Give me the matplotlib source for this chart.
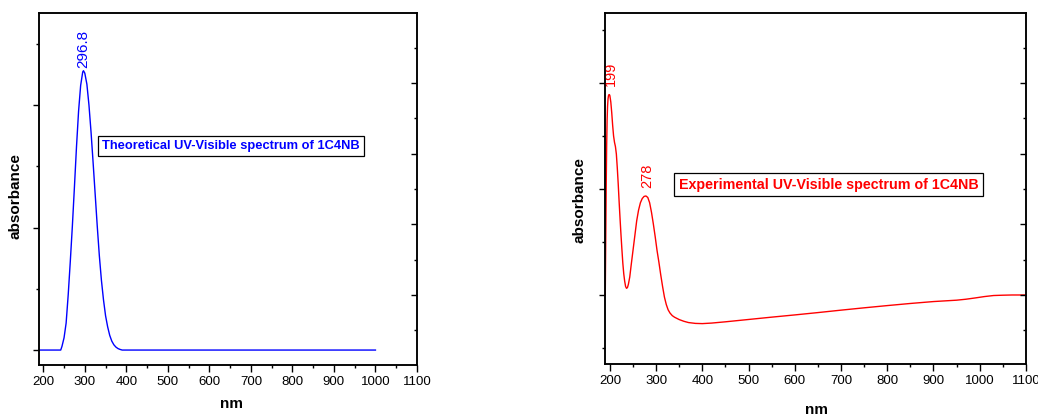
import numpy as np
import matplotlib
matplotlib.use("Agg")
import matplotlib.pyplot as plt
from matplotlib.ticker import MultipleLocator

plt.rcParams["font.family"] = ["Liberation Sans", "DejaVu Sans"]

# theoretical spectrum (arbitrary absorbance units)
theo_nm = [190, 242, 245, 250, 255, 260, 265, 270, 275, 280, 285, 290, 295, 296.8,
           300, 305, 310, 315, 320, 325, 330, 335, 340, 345, 350, 355, 360, 365,
           370, 375, 380, 385, 390, 1000]
theo_abs = [0.0, 0.0, 0.03, 0.1, 0.22, 0.45, 0.72, 1.01, 1.33, 1.66, 1.95, 2.16, 2.27, 2.28,
            2.26, 2.17, 2.00, 1.78, 1.53, 1.27, 1.01, 0.77, 0.57, 0.41, 0.28, 0.19, 0.12, 0.073,
            0.043, 0.024, 0.012, 0.005, 0.0, 0.0]
theo_peak = (296.8, 2.28, "296.8")

# experimental spectrum
exp_nm = [190, 191, 192, 193, 194, 195, 196, 197, 198, 199, 200, 202, 204, 206, 208, 210,
          212, 214, 216, 218, 220, 222, 224, 226, 228, 230, 232, 234, 236, 238, 240, 243,
          246, 250, 254, 258, 262, 266, 270, 274, 278, 282, 286, 290, 294, 298, 302, 306,
          310, 314, 318, 322, 326, 330, 335, 340, 350, 360, 370, 385, 400, 420, 450, 500,
          550, 600, 650, 700, 750, 800, 850, 900, 950, 970, 990, 1010, 1030, 1050, 1070, 1100]
exp_abs = [0.0, 0.5, 1.0, 1.4, 1.65, 1.78, 1.85, 1.88, 1.89, 1.89, 1.88, 1.82, 1.72, 1.6, 1.5, 1.44,
           1.4, 1.33, 1.2, 1.05, 0.88, 0.72, 0.57, 0.43, 0.3, 0.2, 0.13, 0.08, 0.063, 0.07, 0.1, 0.17,
           0.28, 0.42, 0.56, 0.7, 0.8, 0.87, 0.91, 0.93, 0.934, 0.92, 0.87, 0.78, 0.67, 0.55, 0.42, 0.31,
           0.19, 0.08, -0.02, -0.09, -0.14, -0.17, -0.195, -0.21, -0.232, -0.248, -0.26, -0.268, -0.27,
           -0.265, -0.253, -0.231, -0.209, -0.188, -0.166, -0.143, -0.121, -0.1, -0.08, -0.062,
           -0.049, -0.04, -0.028, -0.015, -0.005, -0.002, 0.0, 0.0]
exp_peaks = [(199, 1.89, "199"), (278, 0.934, "278")]

x_ticks = list(range(200, 1101, 100))

fig = plt.figure(figsize=(10.38, 4.17), dpi=100)
ax1 = fig.add_axes([0.0373, 0.1247, 0.3644, 0.8441])
ax2 = fig.add_axes([0.5831, 0.1271, 0.4053, 0.8417])


def style_axes(ax, ylim, twin_ylim):
    ax.set_xlim(189, 1100)
    ax.set_ylim(*ylim)
    ax.set_xticks(x_ticks)
    ax.xaxis.set_minor_locator(MultipleLocator(50))
    ax.yaxis.set_major_locator(MultipleLocator(1))
    ax.yaxis.set_minor_locator(MultipleLocator(0.5))
    ax.set_yticklabels([])
    ax.tick_params(axis="x", which="major", direction="out", length=5, width=1, labelsize=9.5, pad=3)
    ax.tick_params(axis="x", which="minor", direction="out", length=2.5, width=1)
    ax.tick_params(axis="y", which="major", direction="out", length=4.5, width=1)
    ax.tick_params(axis="y", which="minor", direction="out", length=2.2, width=1)
    ax.tick_params(top=False, right=False)
    for sp in ax.spines.values():
        sp.set_linewidth(1.1)
    tw = ax.twinx()
    tw.set_ylim(*twin_ylim)
    tw.yaxis.set_major_locator(MultipleLocator(1))
    tw.yaxis.set_minor_locator(MultipleLocator(0.5))
    tw.set_yticklabels([])
    tw.tick_params(axis="y", which="major", direction="in", length=4.5, width=1)
    tw.tick_params(axis="y", which="minor", direction="in", length=2.2, width=1)
    for sp in tw.spines.values():
        sp.set_linewidth(1.1)


style_axes(ax1, (-0.122, 2.751), (-0.99, 3.99))
style_axes(ax2, (-0.651, 2.660), (-0.977, 3.99))
ax2.set_xlim(190, 1100)

ax1.plot(theo_nm, theo_abs, color="#0000ff", lw=1.0)
ax1.annotate(theo_peak[2], (theo_peak[0], theo_peak[1]), xytext=(0, 2), textcoords="offset points",
             rotation=90, ha="center", va="bottom", color="#0000ff", fontsize=11)
ax1.text(0.508, 0.622, "Theoretical UV-Visible spectrum of 1C4NB", transform=ax1.transAxes,
         ha="center", va="center", color="#0000ff", fontsize=9.3, fontweight="bold",
         bbox=dict(boxstyle="square,pad=0.3", fc="white", ec="black", lw=0.9))
ax1.set_xlabel("nm", fontsize=11, fontweight="bold")
ax1.xaxis.set_label_coords(0.51, -0.091)
ax1.set_ylabel("absorbance", fontsize=11, fontweight="bold")
ax1.yaxis.set_label_coords(-0.044, 0.48)

ax2.plot(exp_nm, exp_abs, color="#ff0000", lw=1.0)
for nm, a, lab in exp_peaks:
    ax2.annotate(lab, (nm, a), xytext=(1, 6), textcoords="offset points",
                 rotation=90, ha="center", va="bottom", color="#ff0000", fontsize=10.5)
ax2.text(0.5306, 0.511, "Experimental UV-Visible spectrum of 1C4NB", transform=ax2.transAxes,
         ha="center", va="center", color="#ff0000", fontsize=10.3, fontweight="bold",
         bbox=dict(boxstyle="square,pad=0.3", fc="white", ec="black", lw=0.9))
ax2.set_xlabel("nm", fontsize=11, fontweight="bold")
ax2.xaxis.set_label_coords(0.502, -0.112)
ax2.set_ylabel("absorbance", fontsize=11, fontweight="bold")
ax2.yaxis.set_label_coords(-0.0435, 0.467)

fig.savefig("out.png", dpi=100)
